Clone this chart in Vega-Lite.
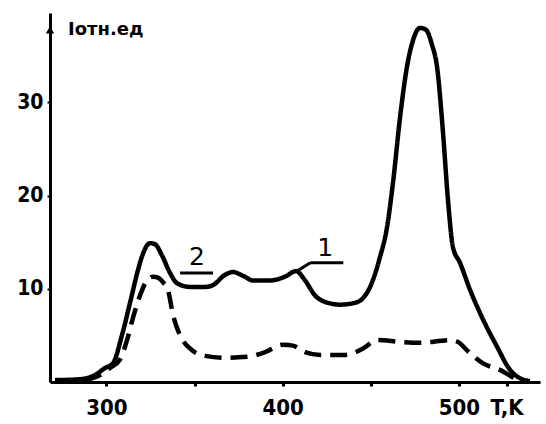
{
  "$schema": "https://vega.github.io/schema/vega-lite/v6.json",
  "width": 490,
  "height": 369,
  "autosize": {"type": "none"},
  "padding": {"left": 50, "top": 13, "right": 6, "bottom": 42},
  "background": "white",
  "config": {"view": {"stroke": null}},
  "datasets": {
    "curves": [
      {"series": "1", "T": 270.8, "I": 0.2},
      {"series": "1", "T": 285.0, "I": 0.3},
      {"series": "1", "T": 293.5, "I": 0.75},
      {"series": "1", "T": 299.2, "I": 1.5},
      {"series": "1", "T": 303.7, "I": 2.0},
      {"series": "1", "T": 308.8, "I": 5.0},
      {"series": "1", "T": 313.4, "I": 8.5},
      {"series": "1", "T": 317.9, "I": 12.0},
      {"series": "1", "T": 320.8, "I": 13.8},
      {"series": "1", "T": 324.7, "I": 14.9},
      {"series": "1", "T": 327.5, "I": 14.8},
      {"series": "1", "T": 331.5, "I": 13.6},
      {"series": "1", "T": 336.1, "I": 11.7},
      {"series": "1", "T": 340.1, "I": 10.6},
      {"series": "1", "T": 347.4, "I": 10.2},
      {"series": "1", "T": 356.0, "I": 10.2},
      {"series": "1", "T": 360.5, "I": 10.4},
      {"series": "1", "T": 367.3, "I": 11.5},
      {"series": "1", "T": 371.8, "I": 11.8},
      {"series": "1", "T": 377.5, "I": 11.4},
      {"series": "1", "T": 383.2, "I": 10.9},
      {"series": "1", "T": 392.8, "I": 10.9},
      {"series": "1", "T": 401.3, "I": 11.3},
      {"series": "1", "T": 407.6, "I": 11.9},
      {"series": "1", "T": 412.7, "I": 10.9},
      {"series": "1", "T": 418.3, "I": 9.3},
      {"series": "1", "T": 424.0, "I": 8.6},
      {"series": "1", "T": 432.5, "I": 8.3},
      {"series": "1", "T": 441.0, "I": 8.5},
      {"series": "1", "T": 445.6, "I": 9.0},
      {"series": "1", "T": 449.6, "I": 10.2},
      {"series": "1", "T": 455.2, "I": 13.4},
      {"series": "1", "T": 459.2, "I": 16.6},
      {"series": "1", "T": 462.6, "I": 21.4},
      {"series": "1", "T": 466.6, "I": 28.4},
      {"series": "1", "T": 470.5, "I": 33.8},
      {"series": "1", "T": 474.0, "I": 36.7},
      {"series": "1", "T": 477.9, "I": 38.0},
      {"series": "1", "T": 481.3, "I": 37.8},
      {"series": "1", "T": 484.7, "I": 36.2},
      {"series": "1", "T": 487.6, "I": 33.8},
      {"series": "1", "T": 491.0, "I": 26.7},
      {"series": "1", "T": 493.8, "I": 19.5},
      {"series": "1", "T": 496.6, "I": 14.5},
      {"series": "1", "T": 500.6, "I": 12.8},
      {"series": "1", "T": 506.3, "I": 9.9},
      {"series": "1", "T": 513.7, "I": 6.7},
      {"series": "1", "T": 521.6, "I": 3.8},
      {"series": "1", "T": 529.0, "I": 1.3},
      {"series": "1", "T": 534.7, "I": 0.4},
      {"series": "1", "T": 540.3, "I": 0.1},
      {"series": "2", "T": 287.9, "I": 0.2},
      {"series": "2", "T": 296.4, "I": 0.75},
      {"series": "2", "T": 302.0, "I": 1.5},
      {"series": "2", "T": 307.7, "I": 2.4},
      {"series": "2", "T": 311.7, "I": 4.5},
      {"series": "2", "T": 315.1, "I": 6.9},
      {"series": "2", "T": 319.1, "I": 9.3},
      {"series": "2", "T": 323.0, "I": 10.9},
      {"series": "2", "T": 326.4, "I": 11.3},
      {"series": "2", "T": 329.3, "I": 11.2},
      {"series": "2", "T": 332.1, "I": 10.7},
      {"series": "2", "T": 334.9, "I": 9.9},
      {"series": "2", "T": 337.8, "I": 7.2},
      {"series": "2", "T": 341.8, "I": 5.0},
      {"series": "2", "T": 347.4, "I": 3.6},
      {"series": "2", "T": 356.0, "I": 2.8},
      {"series": "2", "T": 367.3, "I": 2.6},
      {"series": "2", "T": 379.8, "I": 2.7},
      {"series": "2", "T": 390.0, "I": 3.2},
      {"series": "2", "T": 400.2, "I": 4.0},
      {"series": "2", "T": 405.9, "I": 3.9},
      {"series": "2", "T": 412.7, "I": 3.2},
      {"series": "2", "T": 421.2, "I": 2.9},
      {"series": "2", "T": 435.4, "I": 2.9},
      {"series": "2", "T": 445.6, "I": 3.6},
      {"series": "2", "T": 453.5, "I": 4.5},
      {"series": "2", "T": 466.6, "I": 4.3},
      {"series": "2", "T": 477.9, "I": 4.2},
      {"series": "2", "T": 494.9, "I": 4.5},
      {"series": "2", "T": 499.5, "I": 4.3},
      {"series": "2", "T": 504.6, "I": 3.4},
      {"series": "2", "T": 513.7, "I": 2.0},
      {"series": "2", "T": 523.3, "I": 1.3},
      {"series": "2", "T": 531.8, "I": 0.4},
      {"series": "2", "T": 537.5, "I": 0.1}
    ],
    "leaders": [
      {"T1": 341.8, "T2": 360.5, "I1": 11.7, "I2": 11.7},
      {"T1": 415.7, "T2": 434.4, "I1": 12.8, "I2": 12.8},
      {"T1": 408.1, "T2": 415.7, "I1": 11.9, "I2": 12.8}
    ],
    "labels": [
      {"T": 351.4, "I": 12.6, "text": "2"},
      {"T": 424.2, "I": 13.5, "text": "1"}
    ],
    "ytitle": [
      {"T": 278.2, "I": 37.2, "text": "Iотн.ед"}
    ],
    "arrow": [
      {"T": 268, "I": 37.8}
    ]
  },
  "layer": [
    {
      "data": {"name": "curves"},
      "mark": {"type": "line", "interpolate": "monotone", "strokeWidth": 4.5, "color": "black", "strokeJoin": "round"},
      "encoding": {
        "x": {
          "field": "T", "type": "quantitative",
          "scale": {"domain": [268, 546], "nice": false, "zero": false},
          "axis": {
            "title": null, "grid": false,
            "values": [300, 350, 400, 450, 500, 527],
            "labelExpr": "datum.value == 527 ? 'T,K' : (datum.value % 100 == 0 ? datum.label : '')",
            "domainColor": "black", "domainWidth": 3,
            "tickColor": "black", "tickWidth": 3, "tickSize": 4,
            "labelFont": "DejaVu Sans Condensed, DejaVu Sans",
            "labelFontWeight": "bold", "labelFontSize": 22, "labelColor": "black",
            "labelPadding": 11, "labelFlush": false
          }
        },
        "y": {
          "field": "I", "type": "quantitative",
          "scale": {"domain": [0, 39.6], "nice": false},
          "axis": {
            "title": null, "grid": false,
            "values": [10, 20, 30],
            "domainColor": "black", "domainWidth": 3,
            "tickColor": "black", "tickWidth": 2, "tickSize": 3,
            "labelFont": "DejaVu Sans Condensed, DejaVu Sans",
            "labelFontWeight": "bold", "labelFontSize": 21, "labelColor": "black",
            "labelPadding": 4
          }
        },
        "detail": {"field": "series", "type": "nominal"},
        "strokeDash": {
          "field": "series", "type": "nominal",
          "scale": {"domain": ["1", "2"], "range": [[1, 0], [17, 9]]},
          "legend": null
        }
      }
    },
    {
      "data": {"name": "leaders"},
      "mark": {"type": "rule", "color": "black", "strokeWidth": 3},
      "encoding": {
        "x": {"field": "T1", "type": "quantitative"},
        "x2": {"field": "T2"},
        "y": {"field": "I1", "type": "quantitative"},
        "y2": {"field": "I2"}
      }
    },
    {
      "data": {"name": "labels"},
      "mark": {"type": "text", "font": "DejaVu Sans", "fontSize": 25, "align": "center", "baseline": "alphabetic", "color": "black"},
      "encoding": {
        "x": {"field": "T", "type": "quantitative"},
        "y": {"field": "I", "type": "quantitative"},
        "text": {"field": "text"}
      }
    },
    {
      "data": {"name": "ytitle"},
      "mark": {"type": "text", "font": "DejaVu Sans", "fontWeight": "bold", "fontSize": 18, "align": "left", "baseline": "alphabetic", "color": "black"},
      "encoding": {
        "x": {"field": "T", "type": "quantitative"},
        "y": {"field": "I", "type": "quantitative"},
        "text": {"field": "text"}
      }
    },
    {
      "data": {"name": "arrow"},
      "mark": {"type": "point", "shape": "triangle-up", "filled": true, "color": "black", "size": 70, "opacity": 1},
      "encoding": {
        "x": {"field": "T", "type": "quantitative"},
        "y": {"field": "I", "type": "quantitative"}
      }
    }
  ]
}
